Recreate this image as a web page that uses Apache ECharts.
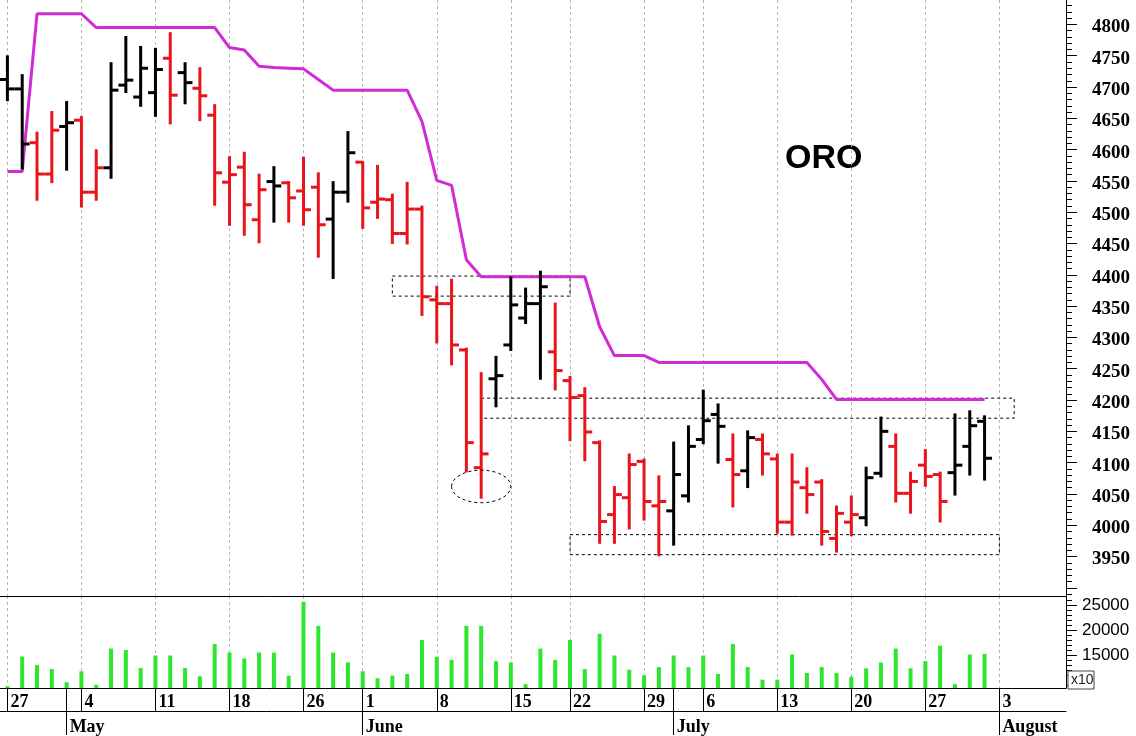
<!DOCTYPE html>
<html><head><meta charset="utf-8">
<script src="https://cdn.jsdelivr.net/npm/echarts@6/dist/echarts.min.js"></script>
<style>html,body{margin:0;padding:0;background:#fff}#c{width:1136px;height:736px}</style>
</head><body><div id="c"></div>
<script>
// ---- data ----
const dates = [
 '2026-04-27','2026-04-28','2026-04-29','2026-04-30','2026-05-01',
 '2026-05-04','2026-05-05','2026-05-06','2026-05-07','2026-05-08',
 '2026-05-11','2026-05-12','2026-05-13','2026-05-14','2026-05-15',
 '2026-05-18','2026-05-19','2026-05-20','2026-05-21','2026-05-22',
 '2026-05-26','2026-05-27','2026-05-28','2026-05-29',
 '2026-06-01','2026-06-02','2026-06-03','2026-06-04','2026-06-05',
 '2026-06-08','2026-06-09','2026-06-10','2026-06-11','2026-06-12',
 '2026-06-15','2026-06-16','2026-06-17','2026-06-18',
 '2026-06-22','2026-06-23','2026-06-24','2026-06-25','2026-06-26',
 '2026-06-29','2026-06-30','2026-07-01','2026-07-02',
 '2026-07-06','2026-07-07','2026-07-08','2026-07-09','2026-07-10',
 '2026-07-13','2026-07-14','2026-07-15','2026-07-16','2026-07-17',
 '2026-07-20','2026-07-21','2026-07-22','2026-07-23','2026-07-24',
 '2026-07-27','2026-07-28','2026-07-29','2026-07-30','2026-07-31',
 '2026-08-03','2026-08-04','2026-08-05','2026-08-06','2026-08-07'
];
const opens = [4712,4697,4611,4561,4637,4647,4532,4571,4703,4684,4691,4746,4723,4698,4655,4548,4572,4488,4549,4547,4534,4540,4489,4532,4580,4516,4520,4466,4505,4360,4354,4280,4092,4234,4288,4331,4354,4277,4231,4207,4132,4017,4044,4102,4031,4023,4047,4137,4177,4105,4087,4137,4106,4005,4060,4069,3979,4005,4012,4083,4126,4051,4096,4081,4084,4126,4166];
const highs = [4749,4719,4627,4660,4676,4652,4599,4738,4780,4764,4761,4786,4738,4730,4671,4588,4595,4560,4572,4548,4587,4562,4548,4628,4580,4574,4528,4547,4509,4381,4392,4282,4243,4269,4396,4378,4405,4354,4237,4219,4134,4061,4113,4105,4078,4132,4158,4215,4193,4145,4150,4145,4113,4113,4091,4072,4030,4046,4092,4172,4145,4084,4120,4084,4177,4182,4174];
const lows = [4679,4570,4520,4548,4568,4509,4520,4555,4692,4670,4654,4642,4674,4647,4512,4480,4464,4452,4485,4485,4480,4429,4395,4517,4475,4491,4451,4450,4336,4292,4257,4086,4044,4190,4280,4323,4234,4217,4136,4104,3972,3972,3995,4009,3952,3969,4038,4131,4100,4030,4061,4081,3988,3985,4020,3969,3958,3984,4000,4078,4038,4020,4063,4006,4049,4081,4073];
const closes = [4697,4609,4561,4631,4643,4532,4571,4695,4711,4730,4728,4687,4707,4686,4563,4560,4512,4536,4542,4523,4504,4480,4532,4595,4507,4521,4466,4505,4365,4354,4288,4132,4114,4239,4352,4354,4381,4247,4204,4149,4006,4049,4097,4038,4038,4081,4126,4167,4158,4081,4140,4114,4005,4069,4049,3990,4019,4017,4076,4150,4051,4070,4078,4038,4096,4159,4107];
// bar signal: 1 = bullish, -1 = bearish
const signal = [1,1,-1,-1,1,-1,-1,1,1,1, 1,-1,1,-1,-1,-1,-1,-1,1,-1, -1,-1,1,1,-1,-1,-1,-1,-1,-1, -1,-1,-1,1,1,1,1,-1,-1,-1, -1,-1,-1,-1,-1,1,1,1,1,-1, 1,-1,-1,-1,-1,-1,-1,-1,1,1, -1,-1,-1,-1,1,1,1];
const stopLine = [4565,4565,4817,4817,4817,4817,4795,4795,4795,4795, 4795,4795,4795,4795,4795,4763,4759,4733,4731,4730, 4729,4712,4695,4695,4695,4695,4695,4695,4645,4551, 4543,4424,4397,4397,4397,4397,4397,4397,4397,4397, 4317,4271,4271,4271,4260,4260,4260,4260,4260,4260, 4260,4260,4260,4260,4260,4233,4201,4201,4201,4201, 4201,4201,4201,4201,4201,4201,4201];
const volumes = [8810,14760,13040,12240,9600,11790,9070,16350,16070,12440, 14960,14960,12440,10790,17260,15550,14360,15550,15550,10920, 25730,20910,15550,13570,11790,10400,10920,11250,18060,14690, 14090,20910,20910,13830,13570,9210,16350,14090, 18060,12240,19320,14960,12110,10990,12640,14960,12640,14960, 11250,17260,12640,10120,10120,15160,11450,12640,11450,10720, 12380,13570,16350,12380,13830,16940,9210,15160,15280];
const priceTickLabels = [3950,4000,4050,4100,4150,4200,4250,4300,4350,4400,4450,4500,4550,4600,4650,4700,4750,4800];
const volumeTickLabels = [15000,20000,25000];
const monthNames = ['January','February','March','April','May','June','July','August','September','October','November','December'];
// annotation boxes [xFromIndex, yTop, xToIndex, yBottom]
const boxes = [[26,4398,38,4366],[32,4203,68,4171],[38,3985,67,3953]];
// annotation ellipse [xIndex, yCenter, xRadius(categories), yRadius(value)]
const ellipses = [[32,4062,2,26]];
const titleText = 'ORO';

// ---- helpers ----
const parsed = dates.map(s => { const p = s.split('-').map(Number); return new Date(Date.UTC(p[0], p[1]-1, p[2])); });
const isWeekStart = i => i === 0 || parsed[i].getUTCDay() < parsed[i-1].getUTCDay() || (parsed[i]-parsed[i-1]) > 4*864e5;
const isMonthStart = i => i > 0 && parsed[i].getUTCMonth() !== parsed[i-1].getUTCMonth();

const priceMajor = []; for (let v = 3900; v <= 4800; v += 50) priceMajor.push(v);
const priceMinor = []; for (let v = 3890; v <= 4830; v += 10) if (v % 50) priceMinor.push(v);
const volMinor = []; for (let v = 9000; v <= 26000; v += 1000) if (v % 5000) volMinor.push(v);

const RED = '#e8141c', BLACK = '#000000';
const gridLineStyle = {color:'#b8b8b8', type:[3,3], width:1};
const serif = 'Liberation Serif';

const ohlcData = closes.map((c, i) => [i, opens[i], highs[i], lows[i], c, signal[i]]);

const chart = echarts.init(document.getElementById('c'), null, {renderer:'canvas'});
chart.setOption({
  animation:false,
  backgroundColor:'#fff',
  grid:[
    {left:0, right:70, top:0, height:596},
    {left:0, right:70, top:596, height:93}
  ],
  graphic:[
    {type:'text', left:785, top:142, style:{text:titleText, font:'bold 34px "Liberation Sans"', fill:'#000'}},
    {type:'rect', shape:{x:1068, y:671, width:26, height:18}, style:{fill:'#fff', stroke:'#444', lineWidth:1}, z:100},
    {type:'text', x:1071, y:673, style:{text:'x10', font:'14px "Liberation Sans"', fill:'#222'}, z:101}
  ],
  xAxis:[
    {gridIndex:0, type:'category', data:dates, boundaryGap:true,
     axisLine:{show:true, lineStyle:{color:'#000', width:1}},
     axisTick:{show:false}, axisLabel:{show:false},
     splitLine:{show:true, interval:(i)=>isWeekStart(i), alignWithLabel:true, lineStyle:gridLineStyle}},
    {gridIndex:1, type:'category', data:dates, boundaryGap:true, position:'bottom',
     axisLine:{show:true, lineStyle:{color:'#000', width:1}},
     axisTick:{show:true, interval:(i)=>isWeekStart(i)||isMonthStart(i), alignWithLabel:true, length:23, lineStyle:{color:'#000', width:1}},
     axisLabel:{show:true, interval:(i)=>isWeekStart(i), formatter:(v)=>String(Number(v.slice(8))),
       align:'left', padding:[0,0,0,3], margin:5, fontFamily:serif, fontWeight:'bold', fontSize:18, color:'#000'},
     splitLine:{show:true, interval:(i)=>isWeekStart(i), alignWithLabel:true, lineStyle:gridLineStyle}},
    {gridIndex:1, type:'category', data:dates, boundaryGap:true, position:'bottom', offset:23,
     axisLine:{show:true, lineStyle:{color:'#000', width:1}},
     axisTick:{show:true, interval:(i)=>isMonthStart(i), alignWithLabel:true, length:24, lineStyle:{color:'#000', width:1}},
     axisLabel:{show:true, interval:(i)=>isMonthStart(i), formatter:(v)=>monthNames[Number(v.slice(5,7))-1],
       align:'left', padding:[0,0,0,3], margin:7, fontFamily:serif, fontWeight:'bold', fontSize:18, color:'#000'},
     splitLine:{show:false}}
  ],
  yAxis:[
    {gridIndex:0, type:'value', position:'right', min:3887, max:4839, splitLine:{show:false},
     axisLine:{show:true, lineStyle:{color:'#000', width:1}},
     axisTick:{show:true, customValues:priceMajor, length:11, lineStyle:{color:'#000', width:1}},
     axisLabel:{show:true, customValues:priceTickLabels, formatter:(v)=>'{p|' + v + '}', align:'left', margin:26,
       rich:{p:{fontFamily:serif, fontWeight:'bold', fontSize:19, color:'#000', padding:[6,0,0,0]}}}},
    {gridIndex:0, type:'value', position:'right', offset:0, min:3887, max:4839, splitLine:{show:false},
     axisLine:{show:false}, axisLabel:{show:false},
     axisTick:{show:true, customValues:priceMinor, length:6, lineStyle:{color:'#000', width:1}}},
    {gridIndex:1, type:'value', position:'right', min:8440, max:26900, splitLine:{show:false},
     axisLine:{show:true, lineStyle:{color:'#000', width:1}},
     axisTick:{show:true, customValues:volumeTickLabels, length:11, lineStyle:{color:'#000', width:1}},
     axisLabel:{show:true, customValues:volumeTickLabels, formatter:(v)=>'{v|' + v + '}', align:'left', margin:16,
       rich:{v:{fontFamily:'Liberation Sans', fontSize:17, color:'#000'}}}},
    {gridIndex:1, type:'value', position:'right', offset:0, min:8440, max:26900, splitLine:{show:false},
     axisLine:{show:false}, axisLabel:{show:false},
     axisTick:{show:true, customValues:volMinor, length:6, lineStyle:{color:'#000', width:1}}}
  ],
  series:[
    {type:'line', name:'stop', xAxisIndex:0, yAxisIndex:0, data:stopLine, symbol:'none', z:2,
     lineStyle:{color:'#d22bd6', width:3}, silent:true,
     markArea:{silent:true, itemStyle:{color:'rgba(0,0,0,0)', borderColor:'#000', borderWidth:1, borderType:[3,3]},
       data: boxes.map(b => [{coord:[b[0], b[1]]}, {coord:[b[2], b[3]]}])}},
    {type:'custom', name:'ohlc', xAxisIndex:0, yAxisIndex:0, data:ohlcData, z:3, silent:true,
     encode:{x:0, y:[1,2,3,4]},
     renderItem:function(params, api){
       const x = api.value(0);
       const pO = api.coord([x, api.value(1)]);
       const pH = api.coord([x, api.value(2)]);
       const pL = api.coord([x, api.value(3)]);
       const pC = api.coord([x, api.value(4)]);
       const bw = api.size([1,0])[0];
       const t = bw*0.5;
       const col = api.value(5) > 0 ? BLACK : RED;
       const st = {stroke:col, lineWidth:3};
       return {type:'group', children:[
         {type:'line', shape:{x1:pH[0], y1:pH[1]-1, x2:pL[0], y2:pL[1]+1}, style:st},
         {type:'line', shape:{x1:pO[0]-t, y1:pO[1], x2:pO[0], y2:pO[1]}, style:st},
         {type:'line', shape:{x1:pC[0], y1:pC[1], x2:pC[0]+t, y2:pC[1]}, style:st}
       ]};
     }},
    {type:'custom', name:'ellipse', xAxisIndex:0, yAxisIndex:0, data:ellipses, z:4, silent:true,
     encode:{x:0, y:1},
     renderItem:function(params, api){
       const c = api.coord([api.value(0), api.value(1)]);
       const band = api.size([1, 0])[0];
       const ry = api.size([0, api.value(3)])[1];
       return {type:'ellipse', shape:{cx:c[0], cy:c[1], rx:band*api.value(2), ry:ry},
         style:{fill:null, stroke:'#000', lineWidth:1, lineDash:[3,3]}};
     }},
    {type:'bar', name:'volume', xAxisIndex:1, yAxisIndex:2, data:volumes, barWidth:4, silent:true,
     itemStyle:{color:'#2de62d'}}
  ]
});
</script></body></html>
